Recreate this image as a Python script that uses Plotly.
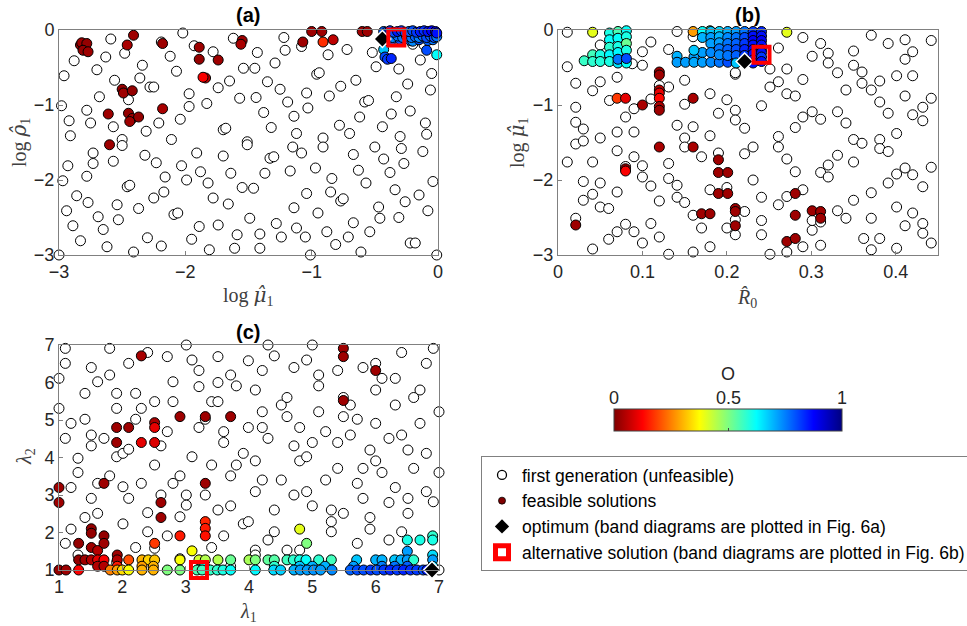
import plotly.graph_objects as go

# ---------------- data ----------------
# Panel (a): log mu1 (x) vs log rho1 (y)
A_OPEN = [(-2.96,-0.61),(-2.88,-0.41),(-2.98,-1.01),(-2.92,-1.21),(-2.91,-1.41),(-2.93,-1.81),(-2.97,-2.01),
(-2.94,-2.41),(-2.89,-2.61),(-2.86,-2.21),(-2.83,-2.81),(-2.77,-2.30),(-2.78,-1.95),(-2.75,-1.24),(-2.78,-1.07),
(-2.73,-1.64),(-2.73,-1.78),(-2.70,-0.53),(-2.68,-0.89),(-2.63,-0.36),(-2.59,-0.12),(-2.56,-0.67),(-2.57,-1.29),
(-2.50,-1.46),(-2.50,-1.54),(-2.57,-1.75),(-2.54,-2.33),(-2.53,-2.53),(-2.62,-2.89),(-2.69,-2.49),(-2.65,-2.66),
(-2.48,-0.31),(-2.45,-0.93),(-2.46,-2.09),(-2.44,-2.07),(-2.41,-2.96),(-2.37,-2.38),(-2.36,-0.64),(-2.34,-0.47),
(-2.28,-0.76),(-2.25,-0.76),(-2.31,-1.35),(-2.32,-1.67),(-2.23,-1.77),(-2.25,-2.24),(-2.17,-2.16),(-2.16,-1.96),
(-2.19,-2.88),(-2.30,-2.77),(-2.21,-1.24),(-2.19,-0.16),(-2.12,-0.35),(-2.11,-1.46),(-2.07,-0.55),(-2.09,-2.46),
(-2.06,-2.44),(-2.03,-1.81),(-2.02,-0.04),(-2.04,-1.19),(-1.97,-1.02),(-1.97,-0.85),(-1.99,-2.00),(-1.93,-0.21),
(-1.91,-1.64),(-1.88,-1.89),(-1.89,-2.62),(-1.95,-2.79),(-1.83,-0.98),(-1.82,-2.04),(-1.78,-2.24),(-1.81,-2.93),
(-1.78,-0.29),(-1.74,-0.77),(-1.74,-2.60),(-1.70,-1.68),(-1.70,-1.33),(-1.68,-1.31),(-1.65,-0.68),(-1.64,-1.91),
(-1.66,-2.32),(-1.62,-0.11),(-1.57,-0.91),(-1.54,-0.51),(-1.55,-2.10),(-1.59,-2.73),(-1.61,-2.91),(-1.51,-1.49),
(-1.51,-1.53),(-1.49,-2.51),(-1.46,-2.11),(-1.45,-0.51),(-1.43,-0.30),(-1.44,-0.90),(-1.41,-2.72),(-1.41,-2.91),
(-1.38,-1.10),(-1.37,-1.91),(-1.35,-0.69),(-1.33,-1.71),(-1.32,-1.30),(-1.30,-1.69),(-1.29,-0.44),(-1.25,-0.79),
(-1.28,-2.58),(-1.24,-2.76),(-1.22,-0.10),(-1.21,-0.27),(-1.19,-0.96),(-1.17,-1.88),(-1.14,-1.15),(-1.15,-1.56),
(-1.12,-1.38),(-1.14,-2.37),(-1.12,-2.64),(-1.08,-1.64),(-1.05,-2.76),(-1.08,-0.22),(-1.04,-0.84),(-1.03,-1.04),
(-1.04,-2.18),(-1.01,-3.00),(-0.97,-1.84),(-0.96,-0.59),(-0.94,-0.57),(-0.95,-2.44),(-0.91,-1.44),(-0.91,-1.56),
(-0.88,-2.69),(-0.86,-0.88),(-0.87,-0.33),(-0.85,-2.16),(-0.84,-1.98),(-0.77,-0.75),(-0.77,-2.28),(-0.75,-2.25),
(-0.72,-0.26),(-0.78,-1.27),(-0.81,-2.86),(-0.71,-2.76),(-0.70,-1.38),(-0.67,-1.66),(-0.67,-2.57),(-0.65,-0.67),
(-0.63,-1.87),(-0.62,-1.16),(-0.61,-2.96),(-0.58,-0.96),(-0.55,-0.94),(-0.57,-2.04),(-0.54,-2.69),(-0.52,-0.30),
(-0.49,-0.49),(-0.50,-1.56),(-0.47,-2.36),(-0.46,-2.51),(-0.44,-1.29),(-0.43,-1.72),(-0.38,-1.90),(-0.37,-1.12),
(-0.34,-2.13),(-0.33,-0.89),(-0.31,-2.50),(-0.31,-0.52),(-0.30,-1.42),(-0.29,-1.58),(-0.27,-1.78),(-0.26,-2.29),
(-0.24,-0.72),(-0.22,-1.08),(-0.22,-2.84),(-0.18,-2.84),(-0.15,-2.20),(-0.14,-0.40),(-0.12,-1.62),(-0.10,-1.24),
(-0.09,-1.39),(-0.08,-2.41),(-0.06,-0.80),(-0.05,-0.58),(-0.04,-2.02),(-0.01,-3.00),(-3.00,-3.00),(-0.11,-0.20),
(-0.20,-0.19)]

A_FEAS = [(-2.83,-0.20,0.02),(-2.82,-0.17,0.03),(-2.78,-0.18,0.02),(-2.81,-0.27,0.02),(-2.77,-0.29,0.03),
(-2.41,-0.07,0.03),(-2.46,-0.20,0.04),(-2.18,-0.18,0.03),(-1.89,-0.23,0.03),(-1.89,-0.39,0.02),(-1.74,-0.40,0.03),
(-1.55,-0.14,0.03),(-1.56,-0.19,0.04),(-2.50,-0.79,0.02),(-2.49,-0.84,0.03),(-2.42,-0.81,0.02),(-2.18,-1.05,0.04),
(-2.61,-1.12,0.03),(-2.45,-1.11,0.02),(-2.42,-1.18,0.03),(-2.37,-1.16,0.02),(-2.44,-1.22,0.03),(-2.60,-1.53,0.03),
(-1.84,-0.64,0.06),(-1.86,-0.63,0.12),(-1.00,-0.02,0.03),(-0.92,-0.02,0.03),(-1.07,-0.16,0.03),(-0.83,-0.13,0.06),
(-0.60,-0.02,0.03),(-0.56,-0.02,0.03),(-0.91,-0.16,0.17),
(-0.43,-0.26,0.68),(-0.42,-0.36,0.80),(-0.40,-0.39,0.82),(-0.37,-0.38,0.84),(-0.09,-0.27,0.80),(-0.01,-0.33,0.62),
(-0.37,-0.14,0.78),(-0.30,-0.13,0.80),(-0.22,-0.14,0.77),(-0.20,-0.15,0.74),(-0.15,-0.13,0.80),(-0.08,-0.14,0.78),
(-0.04,-0.13,0.76),
(-0.40,-0.09,0.72),(-0.36,-0.10,0.75),(-0.32,-0.08,0.77),(-0.28,-0.10,0.76),(-0.25,-0.08,0.74),(-0.21,-0.10,0.76),
(-0.18,-0.09,0.78),(-0.15,-0.10,0.75),(-0.12,-0.08,0.78),(-0.09,-0.10,0.80),(-0.06,-0.08,0.78),(-0.03,-0.10,0.80),
(-0.01,-0.09,0.76),
(-0.43,-0.02,0.78),(-0.41,-0.03,0.80),(-0.38,-0.01,0.82),(-0.35,-0.03,0.80),(-0.32,-0.02,0.85),(-0.29,-0.01,0.82),
(-0.26,-0.03,0.80),(-0.23,-0.02,0.78),(-0.20,-0.01,0.80),(-0.17,-0.03,0.82),(-0.14,-0.02,0.85),(-0.11,-0.01,0.83),
(-0.08,-0.02,0.86),(-0.05,-0.01,0.88),(-0.02,-0.02,0.90),(-0.01,-0.04,0.86)]
A_OPT = (-0.44, -0.12)
A_ALT = (-0.33, -0.10)

# Panel (b): R0 (x) vs log mu1 (y)
B_OPEN = [(0.011,-0.03),(0.011,-0.49),(0.021,-0.71),(0.021,-1.03),(0.021,-1.23),(0.021,-1.52),(0.011,-1.76),
(0.030,-1.32),(0.030,-1.48),(0.030,-2.02),(0.030,-2.27),(0.021,-2.51),(0.011,-3.01),(0.041,-0.81),(0.041,-1.76),
(0.041,-2.19),(0.041,-2.92),(0.050,-0.69),(0.050,-0.20),(0.050,-1.44),(0.050,-2.04),(0.050,-2.36),(0.060,-2.38),
(0.060,-2.79),(0.061,-0.94),(0.070,-0.63),(0.070,-1.36),(0.070,-1.61),(0.070,-2.16),(0.070,-2.69),(0.080,-1.16),
(0.080,-2.59),(0.080,-1.82),(0.090,-1.36),(0.090,-1.69),(0.090,-2.69),(0.090,-1.05),(0.100,-0.29),(0.100,-0.47),
(0.100,-1.81),(0.100,-1.96),(0.100,-2.84),(0.110,-0.16),(0.110,-2.08),(0.110,-2.58),(0.110,-0.92),(0.120,-2.28),
(0.120,-2.76),(0.131,-0.26),(0.131,-0.76),(0.131,-1.78),(0.131,-1.98),(0.131,-2.99),(0.141,-0.02),(0.141,-1.27),
(0.141,-2.07),(0.141,-2.23),(0.150,-0.67),(0.150,-0.99),(0.150,-1.44),(0.150,-1.56),(0.150,-2.30),(0.160,-1.29),
(0.160,-2.47),(0.160,-2.96),(0.160,-0.09),(0.170,-1.69),(0.170,-2.64),(0.180,-0.85),(0.180,-1.41),(0.180,-2.13),
(0.180,-2.89),(0.190,-1.11),(0.190,-1.64),(0.200,-0.93),(0.200,-2.10),(0.200,-2.64),(0.210,-0.59),(0.210,-1.07),
(0.210,-1.20),(0.210,-2.53),(0.210,-2.73),(0.221,-1.31),(0.221,-1.65),(0.221,-2.42),(0.231,-1.56),(0.231,-2.00),
(0.241,-1.01),(0.241,-2.23),(0.241,-2.54),(0.241,-2.73),(0.251,-0.52),(0.251,-2.99),(0.251,-0.76),(0.261,-1.42),
(0.261,-1.56),(0.261,-0.24),(0.261,-0.69),(0.261,-2.33),(0.271,-0.85),(0.271,-0.52),(0.271,-1.72),(0.271,-2.22),
(0.271,-2.96),(0.281,-0.88),(0.281,-1.30),(0.281,-1.89),(0.290,-0.10),(0.290,-0.66),(0.290,-1.16),(0.290,-2.13),
(0.290,-2.89),(0.301,-0.35),(0.301,-1.09),(0.301,-2.67),(0.311,-0.18),(0.311,-1.19),(0.311,-1.90),(0.311,-2.87),
(0.320,-0.31),(0.320,-0.44),(0.320,-1.80),(0.320,-1.96),(0.331,-0.57),(0.331,-1.09),(0.331,-1.67),(0.331,-2.41),
(0.341,-0.80),(0.341,-1.24),(0.341,-2.51),(0.350,-0.28),(0.350,-0.47),(0.350,-1.46),(0.350,-1.76),(0.350,-2.27),
(0.360,-0.56),(0.360,-0.71),(0.360,-1.51),(0.362,-2.78),(0.371,-0.07),(0.371,-0.80),(0.371,-2.17),(0.371,-2.51),
(0.371,-2.93),(0.381,-0.68),(0.381,-0.96),(0.381,-1.46),(0.381,-1.58),(0.381,-2.78),(0.391,-0.18),(0.391,-1.11),
(0.391,-1.62),(0.391,-2.04),(0.401,-0.61),(0.401,-1.38),(0.401,-1.92),(0.401,-2.36),(0.401,-2.91),(0.411,-0.13),
(0.411,-0.39),(0.411,-0.88),(0.411,-1.84),(0.411,-2.61),(0.420,-0.29),(0.420,-0.61),(0.420,-1.13),(0.420,-1.93),
(0.420,-2.44),(0.432,-1.03),(0.432,-1.21),(0.432,-2.09),(0.432,-2.58),(0.432,-2.71),(0.442,-0.14),(0.442,-0.91),
(0.442,-1.83),(0.442,-2.84),(0.088,-0.45),(0.120,-0.74),(0.210,-0.57),(0.301,-2.54),(0.311,-2.56)]

B_FEAS = [(0.120,-0.56,0.03),(0.120,-0.60,0.03),(0.120,-0.80,0.06),(0.120,-0.84,0.10),(0.120,-0.91,0.13),
(0.120,-1.02,0.04),(0.120,-1.07,0.03),(0.120,-1.56,0.04),(0.100,-1.00,0.04),(0.160,-0.91,0.04),(0.160,-1.56,0.04),
(0.070,-0.91,0.18),(0.080,-0.91,0.10),(0.080,-1.85,0.03),(0.080,-1.88,0.12),(0.190,-1.73,0.03),(0.190,-1.90,0.03),
(0.201,-1.90,0.03),(0.190,-2.18,0.03),(0.201,-2.18,0.03),(0.170,-2.45,0.03),(0.180,-2.45,0.03),(0.210,-2.38,0.03),
(0.210,-2.42,0.03),(0.210,-2.61,0.03),(0.021,-2.60,0.03),(0.281,-2.18,0.03),(0.281,-2.47,0.03),(0.271,-2.82,0.03),
(0.281,-2.78,0.03),(0.301,-2.41,0.03),(0.311,-2.42,0.03),(0.311,-2.51,0.03),
(0.041,-0.03,0.40),(0.271,-0.03,0.40),(0.160,-0.02,0.28),(0.180,-0.01,0.50),
(0.031,-0.41,0.57),(0.041,-0.33,0.56),(0.041,-0.42,0.58),(0.050,-0.33,0.60),(0.050,-0.42,0.59),
(0.061,-0.04,0.60),(0.061,-0.13,0.62),(0.061,-0.23,0.58),(0.061,-0.33,0.63),(0.061,-0.42,0.60),
(0.071,-0.02,0.55),(0.071,-0.11,0.62),(0.071,-0.22,0.60),(0.071,-0.30,0.63),(0.071,-0.44,0.65),(0.071,-0.39,0.76),
(0.081,-0.01,0.62),(0.081,-0.09,0.60),(0.081,-0.18,0.52),(0.081,-0.27,0.60),(0.081,-0.44,0.62),(0.081,-0.38,0.80),
(0.141,-0.35,0.70),(0.161,-0.36,0.72),(0.171,-0.30,0.72),(0.161,-0.27,0.68),
(0.141,-0.43,0.72),(0.151,-0.43,0.72),(0.161,-0.43,0.71),(0.171,-0.43,0.72),(0.181,-0.43,0.74),(0.191,-0.43,0.76),
(0.201,-0.43,0.80),(0.211,-0.43,0.82),
(0.171,-0.02,0.62),(0.171,-0.10,0.70),
(0.181,-0.02,0.68),(0.181,-0.10,0.72),(0.181,-0.18,0.72),(0.181,-0.30,0.74),
(0.191,-0.02,0.66),(0.191,-0.09,0.70),(0.191,-0.17,0.72),(0.191,-0.25,0.76),(0.191,-0.33,0.74),
(0.201,-0.02,0.70),(0.201,-0.10,0.74),(0.201,-0.18,0.76),(0.201,-0.26,0.78),(0.201,-0.34,0.76),
(0.211,-0.02,0.72),(0.211,-0.10,0.76),(0.211,-0.18,0.78),(0.211,-0.26,0.80),(0.211,-0.34,0.78),
(0.221,-0.02,0.76),(0.221,-0.10,0.80),(0.221,-0.18,0.82),(0.221,-0.26,0.84),(0.221,-0.34,0.82),
(0.231,-0.02,0.82),(0.231,-0.08,0.86),(0.231,-0.14,0.88),(0.231,-0.20,0.86),(0.231,-0.26,0.88),(0.231,-0.32,0.86),
(0.231,-0.40,0.84),(0.231,-0.44,0.86),
(0.241,-0.02,0.84),(0.241,-0.08,0.86),(0.241,-0.14,0.88),(0.241,-0.20,0.86),(0.241,-0.26,0.84),(0.241,-0.30,0.86),
(0.241,-0.36,0.82),(0.241,-0.42,0.86),(0.211,-0.44,0.68)]
B_OPT = (0.221, -0.42)
B_ALT = (0.241, -0.33)

# Panel (c): lambda1 (x) vs lambda2 (y)
C_OPEN = [(1.10,6.91),(1.10,6.51),(1.00,6.11),(1.00,5.31),(1.10,4.51),(1.19,4.91),(1.30,3.98),(1.30,3.60),
(1.19,3.20),(1.19,2.09),(1.10,1.71),(1.41,5.71),(1.41,5.02),(1.41,2.40),(1.51,6.40),(1.51,4.60),(1.51,4.31),
(1.51,2.91),(1.61,6.02),(1.61,3.31),(1.61,2.51),(1.71,4.51),(1.80,6.91),(1.80,6.20),(1.80,3.51),(1.91,5.71),
(1.91,5.31),(1.91,4.02),(2.01,4.11),(2.01,3.22),(2.01,2.23),(2.10,6.51),(2.10,4.22),(2.10,2.91),(2.21,5.71),
(2.21,5.02),(2.21,1.60),(2.30,5.31),(2.30,3.31),(2.40,6.80),(2.40,2.53),(2.40,2.02),(2.51,5.49),(2.51,3.80),
(2.61,4.31),(2.61,3.00),(2.71,6.69),(2.71,4.69),(2.71,1.91),(2.80,6.02),(2.80,5.49),(2.80,3.31),(2.91,3.51),
(2.91,2.42),(3.01,7.00),(3.01,3.00),(3.01,2.73),(3.10,6.60),(3.10,4.02),(3.21,6.32),(3.21,5.89),(3.21,4.80),
(3.31,5.02),(3.31,3.00),(3.41,5.49),(3.41,3.80),(3.41,1.60),(3.51,6.69),(3.51,6.00),(3.51,5.49),(3.51,2.60),
(3.60,4.69),(3.60,4.40),(3.60,1.91),(3.71,6.20),(3.71,3.51),(3.71,2.71),(3.80,5.91),(3.80,3.80),(3.91,4.11),
(3.91,2.23),(3.99,6.58),(3.99,4.80),(3.99,2.29),(4.10,5.80),(4.10,3.91),(4.10,3.09),(4.10,1.53),(4.21,6.32),
(4.21,5.22),(4.21,4.80),(4.21,3.40),(4.30,7.00),(4.30,4.51),(4.30,1.80),(4.40,6.71),(4.40,2.60),(4.40,2.02),
(4.51,5.40),(4.51,3.40),(4.60,5.60),(4.60,5.09),(4.60,1.53),(4.71,6.40),(4.71,4.31),(4.71,3.00),(4.80,4.80),
(4.80,3.91),(4.80,1.53),(4.91,6.60),(4.91,4.02),(4.91,3.09),(5.00,7.00),(5.00,4.40),(5.00,2.71),(5.10,6.20),
(5.10,5.91),(5.10,5.22),(5.21,4.69),(5.21,3.40),(5.30,2.60),(5.30,2.29),(5.30,2.02),(5.40,6.32),(5.40,4.40),
(5.40,3.71),(5.49,5.09),(5.49,2.51),(5.49,5.60),(5.60,5.40),(5.60,4.60),(5.71,5.02),(5.71,3.31),(5.71,1.71),
(5.80,6.40),(5.80,3.71),(5.80,2.91),(5.91,4.20),(5.91,2.40),(5.91,2.09),(6.00,5.80),(6.00,4.91),(6.00,3.91),
(6.00,6.51),(6.10,6.11),(6.10,3.60),(6.21,4.51),(6.21,2.80),(6.21,1.80),(6.31,6.11),(6.31,5.40),(6.31,3.20),
(6.41,6.80),(6.41,4.60),(6.41,2.02),(6.51,4.20),(6.51,2.91),(6.51,2.51),(6.60,5.60),(6.60,3.71),(6.70,5.80),
(6.70,4.91),(6.80,6.51),(6.80,4.11),(6.80,3.09),(6.91,6.91),(6.91,2.82),(7.00,5.22),(7.00,3.60),(1.30,1.40),
(2.51,1.58),(4.10,1.40),(3.71,1.10),(7.00,1.00),(1.91,1.20),(2.91,1.30)]

C_FEAS = [(1.00,3.20,0.03),(1.00,2.80,0.03),(2.30,6.71,0.04),(2.91,5.09,0.03),(3.31,5.09,0.03),(3.71,5.09,0.03),
(1.91,4.80,0.03),(2.10,4.80,0.03),(2.51,4.93,0.04),(2.51,4.80,0.10),(1.91,4.40,0.03),(2.30,4.40,0.10),
(2.51,4.40,0.09),(1.71,3.31,0.03),(3.31,3.31,0.03),(2.61,2.80,0.03),(2.61,2.40,0.03),(5.49,6.91,0.03),
(5.49,6.69,0.03),(6.00,6.32,0.03),(5.49,5.52,0.03),
(1.31,1.71,0.02),(1.51,2.10,0.02),(1.51,1.98,0.02),(1.51,1.60,0.03),(1.61,1.52,0.05),(1.71,1.91,0.02),
(1.71,1.71,0.03),(1.92,1.40,0.03),(2.51,1.71,0.18),(2.91,1.91,0.15),(3.31,2.29,0.16),(3.31,2.11,0.15),
(3.31,1.91,0.14),(3.10,1.51,0.38),(4.80,2.09,0.40),(4.91,1.71,0.50),(6.50,1.50,0.72),(6.50,1.80,0.60),
(6.70,1.80,0.60),(6.90,1.91,0.58),(6.90,1.80,0.60),(6.90,1.40,0.66),
(1.31,1.27,0.02),(1.41,1.27,0.03),(1.51,1.27,0.05),(1.61,1.27,0.10),(1.71,1.27,0.12),(1.92,1.27,0.05),
(2.10,1.27,0.20),(2.31,1.27,0.30),(2.41,1.27,0.33),(2.51,1.27,0.32),(2.91,1.27,0.38),(3.21,1.27,0.42),
(3.31,1.27,0.45),(3.51,1.27,0.45),(3.71,1.27,0.52),(4.00,1.27,0.46),(4.10,1.27,0.50),(4.30,1.27,0.53),
(4.40,1.27,0.54),(4.60,1.27,0.56),(4.70,1.27,0.58),(4.80,1.27,0.60),(4.90,1.27,0.62),(5.10,1.27,0.58),
(5.30,1.27,0.56),(5.70,1.27,0.68),(6.00,1.27,0.70),(6.10,1.27,0.70),(6.30,1.27,0.68),(6.40,1.27,0.70),
(6.50,1.27,0.72),(6.60,1.27,0.58),(6.90,1.27,0.72),
(1.61,1.10,0.05),(1.71,1.10,0.05),(1.92,1.10,0.15),(2.31,1.10,0.28),(2.49,1.10,0.30),(3.30,1.10,0.60),
(4.40,1.10,0.58),(4.80,1.10,0.68),(5.00,1.10,0.70),(5.20,1.10,0.70),(5.65,1.10,0.72),(6.10,1.10,0.75),
(6.30,1.10,0.76),(6.50,1.10,0.78),(6.90,1.10,0.66),
(1.00,1.00,0.02),(1.11,1.00,0.03),(1.31,1.00,0.12),(1.81,1.00,0.25),(1.92,1.00,0.28),(2.00,1.00,0.34),
(2.10,1.00,0.38),(2.31,1.00,0.30),(2.49,1.00,0.30),(2.71,1.00,0.50),(2.91,1.00,0.50),(3.18,1.00,0.55),
(3.26,1.00,0.56),(3.39,1.00,0.57),(3.50,1.00,0.58),(3.59,1.00,0.60),(3.71,1.00,0.62),(4.10,1.00,0.63),
(4.39,1.00,0.66),(4.50,1.00,0.67),(4.71,1.00,0.70),(4.81,1.00,0.72),(4.92,1.00,0.72),(5.02,1.00,0.73),
(5.13,1.00,0.72),(5.31,1.00,0.74),(5.60,1.00,0.78),(5.71,1.00,0.80),(5.81,1.00,0.80),(5.92,1.00,0.82),
(6.02,1.00,0.80),(6.13,1.00,0.82),(6.23,1.00,0.84),(6.34,1.00,0.82),(6.44,1.00,0.84),(6.55,1.00,0.83),
(6.65,1.00,0.82),(6.75,1.00,0.80),(6.81,1.00,0.85)]
C_OPT = (6.89, 1.00)
C_ALT = (3.21, 1.00)

A_XTICKS = [-3, -2, -1, 0]
A_YTICKS = [-3, -2, -1, 0]
B_XTICKS = [0, 0.1, 0.2, 0.3, 0.4]
B_YTICKS = [-3, -2, -1, 0]
C_XTICKS = [1, 2, 3, 4, 5, 6, 7]
C_YTICKS = [1, 2, 3, 4, 5, 6, 7]
CB_TICKS = [0, 0.5, 1]
CB_LABELS = ["0", "0.5", "1"]

LEGEND_NAMES = ["first generation (unfeasible)", "feasible solutions",
                "optimum (band diagrams are plotted in Fig. 6a)",
                "alternative solution (band diagrams are plotted in Fig. 6b)"]

# ---------------- figure ----------------
W, H = 967, 626
JET_R = [[0.0, "rgb(128,0,0)"], [0.125, "rgb(255,0,0)"], [0.375, "rgb(255,255,0)"],
         [0.625, "rgb(0,255,255)"], [0.875, "rgb(0,0,255)"], [1.0, "rgb(0,0,128)"]]

CB_LEFT, CB_RIGHT = 614, 842


def px_x(p):
    return p / W


def px_y(p):
    return 1 - p / H


fig = go.Figure()

panels = [
    ("x", "y", A_OPEN, A_FEAS, A_OPT, A_ALT),
    ("x2", "y2", B_OPEN, B_FEAS, B_OPT, B_ALT),
    ("x3", "y3", C_OPEN, C_FEAS, C_OPT, C_ALT),
]
for xa, ya, opn, feas, opt, alt in panels:
    fig.add_trace(go.Scatter(
        x=[p[0] for p in opn], y=[p[1] for p in opn], mode="markers", xaxis=xa, yaxis=ya,
        marker=dict(size=10, color="white", line=dict(color="black", width=1)),
        showlegend=False, cliponaxis=False, hoverinfo="skip"))
    fig.add_trace(go.Scatter(
        x=[p[0] for p in feas], y=[p[1] for p in feas], mode="markers", xaxis=xa, yaxis=ya,
        marker=dict(size=10, color=[p[2] for p in feas], coloraxis="coloraxis",
                    line=dict(color="black", width=1)),
        showlegend=False, cliponaxis=False, hoverinfo="skip"))
    fig.add_trace(go.Scatter(
        x=[opt[0]], y=[opt[1]], mode="markers", xaxis=xa, yaxis=ya,
        marker=dict(symbol="diamond", size=13, color="black", line=dict(color="white", width=1.5)),
        showlegend=False, cliponaxis=False, hoverinfo="skip"))
    fig.add_trace(go.Scatter(
        x=[alt[0]], y=[alt[1]], mode="markers", xaxis=xa, yaxis=ya,
        marker=dict(symbol="square-open", size=16, color="red", line=dict(color="red", width=4)),
        showlegend=False, cliponaxis=False, hoverinfo="skip"))

# legend entries
leg_markers = [
    dict(symbol="circle", size=9, color="white", line=dict(color="black", width=1.3)),
    dict(symbol="circle", size=7, color="rgb(128,0,0)", line=dict(color="black", width=0.8)),
    dict(symbol="diamond", size=11, color="black", line=dict(color="black", width=0)),
    dict(symbol="square", size=13, color="white", line=dict(color="red", width=5)),
]
for name, mk in zip(LEGEND_NAMES, leg_markers):
    fig.add_trace(go.Scatter(x=[None], y=[None], mode="markers", name=name, marker=mk,
                             xaxis="x", yaxis="y", showlegend=True))

tickfont = dict(family="Liberation Sans, Arial", size=18, color="#262626")
axis_common = dict(showline=True, mirror=True, linecolor="#808080", linewidth=1,
                   ticks="inside", ticklen=4, tickcolor="#808080", showgrid=False,
                   zeroline=False, tickfont=tickfont)

fig.update_layout(
    width=W, height=H, margin=dict(l=0, r=0, t=0, b=0, autoexpand=False),
    paper_bgcolor="white", plot_bgcolor="white",
    xaxis=dict(domain=[px_x(59), px_x(438)], range=[-3, 0], tickvals=A_XTICKS, anchor="y", **axis_common),
    yaxis=dict(domain=[px_y(255), px_y(30)], range=[-3, 0], tickvals=A_YTICKS, anchor="x", **axis_common),
    xaxis2=dict(domain=[px_x(558), px_x(938)], range=[0, 0.45], tickvals=B_XTICKS, anchor="y2", **axis_common),
    yaxis2=dict(domain=[px_y(255), px_y(30)], range=[-3, 0], tickvals=B_YTICKS, anchor="x2", **axis_common),
    xaxis3=dict(domain=[px_x(59), px_x(439)], range=[1, 7], tickvals=C_XTICKS, anchor="y3", **axis_common),
    yaxis3=dict(domain=[px_y(570), px_y(345)], range=[1, 7], tickvals=C_YTICKS, anchor="x3", **axis_common),
    coloraxis=dict(cmin=0, cmax=1, colorscale=JET_R,
                   colorbar=dict(orientation="h", x=px_x((CB_LEFT + CB_RIGHT) / 2), xanchor="center",
                                 y=px_y(422), yanchor="middle", len=CB_RIGHT - CB_LEFT, lenmode="pixels",
                                 thickness=22, tickvals=CB_TICKS, showticklabels=False,
                                 ticks="inside", ticklen=3, tickcolor="#404040",
                                 outlinecolor="#404040", outlinewidth=1, xpad=0, ypad=0)),
    legend=dict(x=px_x(481), y=px_y(456), xanchor="left", yanchor="top",
                bordercolor="#808080", borderwidth=1, bgcolor="white",
                font=dict(family="Liberation Sans, Arial", size=17.5, color="black"),
                itemwidth=30, tracegroupgap=0),
)

serif = dict(family="Liberation Serif, Times New Roman", size=20, color="#404040")
bold = dict(family="Liberation Sans, Arial", size=20, color="black")
HAT = "<span style=\"font-family:'DejaVu Serif'\">{}</span>"
annos = [
    ("<b>(a)</b>", 248, 15, 0, bold),
    ("<b>(b)</b>", 748, 15, 0, bold),
    ("<b>(c)</b>", 248, 332, 0, bold),
    ("log <i>" + HAT.format("μ̂") + "</i><sub>1</sub>", 248, 296, 0, serif),
    ("log <i>" + HAT.format("ρ̂") + "</i><sub>1</sub>", 20, 143, -90, serif),
    ("<i>R̂</i><sub>0</sub>", 747, 298, 0, serif),
    ("log <i>" + HAT.format("μ̂") + "</i><sub>1</sub>", 518, 143, -90, serif),
    ("<i>λ</i><sub>1</sub>", 248, 612, 0, serif),
    ("<i>λ</i><sub>2</sub>", 25, 457, -90, serif),
    ("O", 728, 374, 0, tickfont),
]
for text, xp, yp, ang, font in annos:
    fig.add_annotation(text=text, x=px_x(xp), y=px_y(yp), xref="paper", yref="paper",
                       xanchor="center", yanchor="middle", showarrow=False, textangle=ang, font=font)

# colorbar tick labels above the bar (positions follow the colour axis range)
for v, lab in zip(CB_TICKS, CB_LABELS):
    xp = CB_LEFT + (v - 0) / (1 - 0) * (CB_RIGHT - CB_LEFT)
    fig.add_annotation(text=lab, x=px_x(xp), y=px_y(398), xref="paper", yref="paper",
                       xanchor="center", yanchor="middle", showarrow=False, font=tickfont)

fig.write_html("out.html")
